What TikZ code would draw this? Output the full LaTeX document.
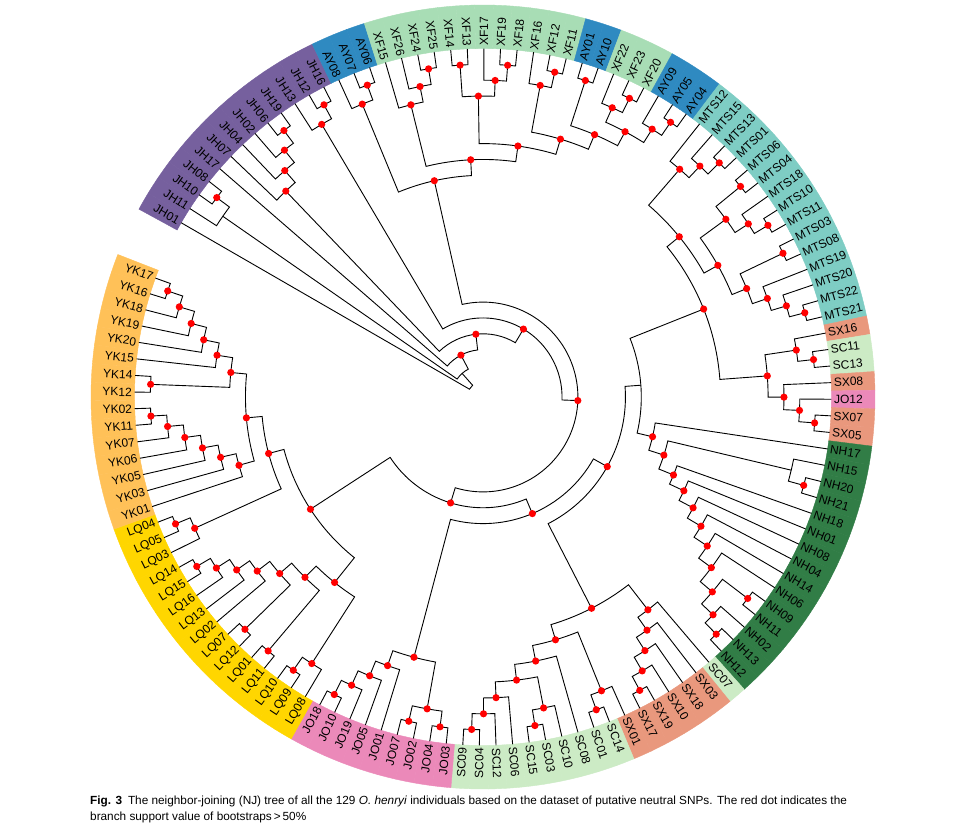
\documentclass[tikz,border=0pt]{standalone}
\usepackage{fontspec}
\setmainfont{Liberation Sans}
\pgfdeclarelayer{top}
\pgfsetlayers{main,top}

\definecolor{cJH}{RGB}{118,96,158}
\definecolor{cAY}{RGB}{47,138,193}
\definecolor{cXF}{RGB}{168,221,181}
\definecolor{cMTS}{RGB}{126,205,196}
\definecolor{cSX}{RGB}{233,152,125}
\definecolor{cSC}{RGB}{204,235,197}
\definecolor{cJO}{RGB}{235,137,185}
\definecolor{cNH}{RGB}{49,125,70}
\definecolor{cLQ}{RGB}{255,214,0}
\definecolor{cYK}{RGB}{255,193,88}

\tikzset{
  branch/.style={draw=black, line width=0.9pt, line join=miter},
  supdot/.style={fill=red},
  leaflab/.style={font=\fontsize{12}{14}\selectfont, inner sep=1.5pt},
  caption/.style={font=\fontsize{11.8}{14}\selectfont, inner sep=0pt},
}

\def\rleaf{348.5}
\def\rband{392}
\def\dstep{2.734}
\def\hstep{15.85}
\newcounter{leafno}

% one tip: ring segment, label, coordinate
\newcommand\tip[2]{%
  \pgfmathsetmacro\aT{150-\value{leafno}*\dstep}%
  \pgfmathsetmacro\aLo{\aT-\dstep/2}%
  \pgfmathsetmacro\aHi{\aT+\dstep/2}%
  \expandafter\xdef\csname ix@#1\endcsname{\the\value{leafno}}%
  \expandafter\xdef\csname hh@#1\endcsname{0}%
  \filldraw[#2, line width=0.4pt] (\aLo:\rleaf) arc[start angle=\aLo, end angle=\aHi, radius=\rleaf]
    -- (\aHi:\rband) arc[start angle=\aHi, end angle=\aLo, radius=\rband] -- cycle;
  \coordinate (#1) at (\aT:\rleaf);
  \pgfmathsetmacro\tcos{cos(\aT)}%
  \ifdim\tcos pt>0pt
    \node[leaflab, anchor=west, rotate=\aT] (lab#1) at (\aT:\rleaf+1) {#1};
  \else
    \node[leaflab, anchor=east, rotate=\aT+180] (lab#1) at (\aT:\rleaf+1) {#1};
  \fi
  \stepcounter{leafno}%
}

% join two children into a new clade
\newcommand\joinup[3]{%
  \pgfmathsetmacro\pA{\csname ix@#2\endcsname}%
  \pgfmathsetmacro\pB{\csname ix@#3\endcsname}%
  \pgfmathsetmacro\pH{1+max(\csname hh@#2\endcsname,\csname hh@#3\endcsname)}%
  \pgfmathsetmacro\pM{(\pA+\pB)/2}%
  \pgfmathsetmacro\pR{\rleaf-\hstep*\pH}%
  \pgfmathsetmacro\aA{150-\pA*\dstep}%
  \pgfmathsetmacro\aB{150-\pB*\dstep}%
  \pgfmathsetmacro\aM{150-\pM*\dstep}%
  \expandafter\xdef\csname ix@#1\endcsname{\pM}%
  \expandafter\xdef\csname hh@#1\endcsname{\pH}%
  \coordinate (#1) at (\aM:\pR);
  \draw[branch] (#2) -- (\aA:\pR) arc[start angle=\aA, end angle=\aB, radius=\pR] -- (#3);
}
\newcommand\clade[3]{%
  \joinup{#1}{#2}{#3}%
  \begin{pgfonlayer}{top}\fill[supdot] (#1) circle[radius=3.6];\end{pgfonlayer}%
}
\newcommand\cladenodot[3]{\joinup{#1}{#2}{#3}}

\begin{document}
\begin{tikzpicture}[x=1pt,y=1pt]
\fill[white] (-483,-441) rectangle (477,397);
\useasboundingbox (-483,-441) rectangle (477,397);

% coloured ring with the 129 labels
\foreach \nm/\cl in {JH01/cJH,JH11/cJH,JH10/cJH,JH08/cJH,JH17/cJH,JH07/cJH,JH04/cJH,JH02/cJH,JH06/cJH,JH19/cJH,JH13/cJH,JH12/cJH,JH16/cJH,
  AY08/cAY,AY07/cAY,AY06/cAY,
  XF15/cXF,XF26/cXF,XF24/cXF,XF25/cXF,XF14/cXF,XF13/cXF,XF17/cXF,XF19/cXF,XF18/cXF,XF16/cXF,XF12/cXF,XF11/cXF,
  AY01/cAY,AY10/cAY,XF22/cXF,XF23/cXF,XF20/cXF,AY09/cAY,AY05/cAY,AY04/cAY,
  MTS12/cMTS,MTS15/cMTS,MTS13/cMTS,MTS01/cMTS,MTS06/cMTS,MTS04/cMTS,MTS18/cMTS,MTS10/cMTS,MTS11/cMTS,MTS03/cMTS,MTS08/cMTS,MTS19/cMTS,MTS20/cMTS,MTS22/cMTS,MTS21/cMTS,
  SX16/cSX,SC11/cSC,SC13/cSC,SX08/cSX,JO12/cJO,SX07/cSX,SX05/cSX,
  NH17/cNH,NH15/cNH,NH20/cNH,NH21/cNH,NH18/cNH,NH01/cNH,NH08/cNH,NH04/cNH,NH14/cNH,NH06/cNH,NH09/cNH,NH11/cNH,NH02/cNH,NH13/cNH,NH12/cNH,
  SC07/cSC,SX03/cSX,SX18/cSX,SX10/cSX,SX19/cSX,SX17/cSX,SX01/cSX,
  SC14/cSC,SC01/cSC,SC08/cSC,SC10/cSC,SC03/cSC,SC15/cSC,SC06/cSC,SC12/cSC,SC04/cSC,SC09/cSC,
  JO03/cJO,JO04/cJO,JO02/cJO,JO07/cJO,JO01/cJO,JO05/cJO,JO19/cJO,JO10/cJO,JO18/cJO,
  LQ08/cLQ,LQ09/cLQ,LQ10/cLQ,LQ11/cLQ,LQ01/cLQ,LQ12/cLQ,LQ07/cLQ,LQ02/cLQ,LQ13/cLQ,LQ16/cLQ,LQ15/cLQ,LQ14/cLQ,LQ03/cLQ,LQ05/cLQ,LQ04/cLQ,
  YK01/cYK,YK03/cYK,YK05/cYK,YK06/cYK,YK07/cYK,YK11/cYK,YK02/cYK,YK12/cYK,YK14/cYK,YK15/cYK,YK20/cYK,YK19/cYK,YK18/cYK,YK16/cYK,YK17/cYK}
  {\tip{\nm}{\cl}}

% JH
\clade{jA1}{JH16}{JH12}
\clade{jA2}{jA1}{JH13}
\clade{jL1}{JH06}{JH19}
\clade{jL2}{JH02}{jL1}
\clade{jL3}{JH04}{jL2}
\clade{jL4}{JH07}{jL3}
\clade{jB1}{JH08}{JH10}
\cladenodot{jB2}{jB1}{JH11}
% AY and XF
\clade{t1}{AY07}{AY06}
\clade{t2}{AY08}{t1}
\clade{f1}{XF24}{XF25}
\clade{f2}{XF26}{f1}
\clade{f3}{XF15}{f2}
\clade{g1}{XF14}{XF13}
\clade{g2}{XF19}{XF18}
\clade{g3}{XF17}{g2}
\clade{g4}{g1}{g3}
\clade{k1}{XF12}{XF11}
\clade{k2}{XF16}{k1}
\clade{y1}{AY01}{AY10}
\clade{x1}{XF23}{XF20}
\clade{x2}{XF22}{x1}
\clade{w1}{AY05}{AY04}
\clade{w2}{AY09}{w1}
\clade{x3}{x2}{w2}
\clade{x4}{y1}{x3}
\clade{x5}{k2}{x4}
\clade{x6}{g4}{x5}
\clade{x7}{f3}{x6}
\clade{t8}{t2}{x7}
% MTS
\clade{m1}{MTS13}{MTS01}
\clade{m2}{MTS15}{m1}
\clade{m3}{MTS12}{m2}
\clade{m4}{MTS06}{MTS04}
\clade{m5}{MTS10}{MTS11}
\clade{m6}{MTS18}{m5}
\clade{m7}{m4}{m6}
\clade{m8}{MTS03}{MTS08}
\clade{m9}{MTS22}{MTS21}
\clade{m10}{MTS20}{m9}
\clade{m11}{MTS19}{m10}
\clade{m12}{m8}{m11}
\clade{m13}{m7}{m12}
\clade{m14}{m3}{m13}
\clade{s1}{SC11}{SC13}
\clade{s2}{SX16}{s1}
\clade{s3}{SX07}{SX05}
\clade{s4}{JO12}{s3}
\clade{s5}{SX08}{s4}
\clade{s6}{s2}{s5}
\clade{mt7}{m14}{s6}
% NH
\clade{h1}{NH13}{NH12}
\clade{h2}{NH02}{h1}
\clade{h3b}{NH09}{NH11}
\clade{h3}{h3b}{h2}
\clade{h4}{NH06}{h3}
\clade{h5}{NH14}{h4}
\clade{h6}{NH04}{h5}
\clade{h7}{NH08}{h6}
\clade{h8}{NH01}{h7}
\clade{h9}{NH18}{h8}
\clade{e1}{NH20}{NH21}
\cladenodot{e2}{NH15}{e1}
\clade{h10}{e2}{h9}
\clade{h11}{NH17}{h10}
\cladenodot{n12}{mt7}{h11}
% SX and SC
\clade{v1}{SX19}{SX17}
\clade{v2}{SX10}{v1}
\clade{v3}{SX18}{v2}
\clade{v4}{SX03}{v3}
\clade{v5}{SC07}{v4}
\clade{c1}{SC04}{SC09}
\clade{c2}{SC12}{c1}
\clade{c3}{SC06}{c2}
\clade{c4}{SC15}{SC03}
\clade{c5}{SC10}{c4}
\clade{c6}{c5}{c3}
\clade{c7}{SC08}{c6}
\clade{u1}{SC14}{SC01}
\clade{u2}{SX01}{u1}
\clade{c8}{u2}{c7}
\clade{sc7}{v5}{c8}
\clade{p13}{n12}{sc7}
% JO
\clade{o1}{JO18}{JO10}
\clade{o2}{JO19}{o1}
\clade{o3}{JO05}{o2}
\clade{o4}{JO01}{o3}
\clade{o5}{JO07}{JO02}
\clade{o6}{JO04}{JO03}
\clade{o7}{o5}{o6}
\clade{o8}{o4}{o7}
\clade{q14}{o8}{p13}
% LQ
\clade{q1}{LQ04}{LQ05}
\clade{q2}{LQ03}{q1}
\clade{l1}{LQ15}{LQ14}
\clade{l2}{LQ16}{l1}
\clade{l3}{LQ13}{l2}
\clade{l4}{LQ02}{l3}
\clade{l5a}{LQ12}{LQ07}
\clade{l5}{l5a}{l4}
\clade{l6a}{LQ11}{LQ01}
\clade{l6}{l6a}{l5}
\clade{l7a}{LQ10}{LQ09}
\clade{l7b}{LQ08}{l7a}
\clade{l7}{l7b}{l6}
% YK
\clade{a1}{YK16}{YK17}
\clade{a2}{YK18}{a1}
\clade{a3}{YK19}{a2}
\clade{a4}{YK20}{a3}
\clade{a5}{YK15}{a4}
\clade{b1}{YK12}{YK14}
\clade{a6}{b1}{a5}
\clade{yc1}{YK11}{YK02}
\clade{yc2}{YK07}{yc1}
\clade{yc3}{YK06}{yc2}
\clade{yc4}{YK05}{yc3}
\clade{yc5}{YK03}{yc4}
\clade{yc6}{YK01}{yc5}
\clade{n7}{yc6}{a6}
\clade{n8}{q2}{n7}
\clade{n9}{l7}{n8}
% backbone
\clade{w15}{q14}{n9}
\clade{v16}{t8}{w15}
\clade{x17}{jA2}{v16}
\clade{y18}{jL4}{x17}
\clade{z19}{JH17}{y18}
\cladenodot{a20}{jB2}{z19}
\cladenodot{root}{JH01}{a20}

% caption
\node[caption, anchor=base west] (cap1) at (-393,-407)
  {\textbf{Fig. 3}\enspace The neighbor-joining (NJ) tree of all the 129 \textit{O. henryi} individuals based on the dataset of putative neutral SNPs. The red dot indicates the};
\node[caption, anchor=base west] (cap2) at (-393,-423) {branch support value of bootstraps\,>\,50\%};
\end{tikzpicture}
\end{document}
